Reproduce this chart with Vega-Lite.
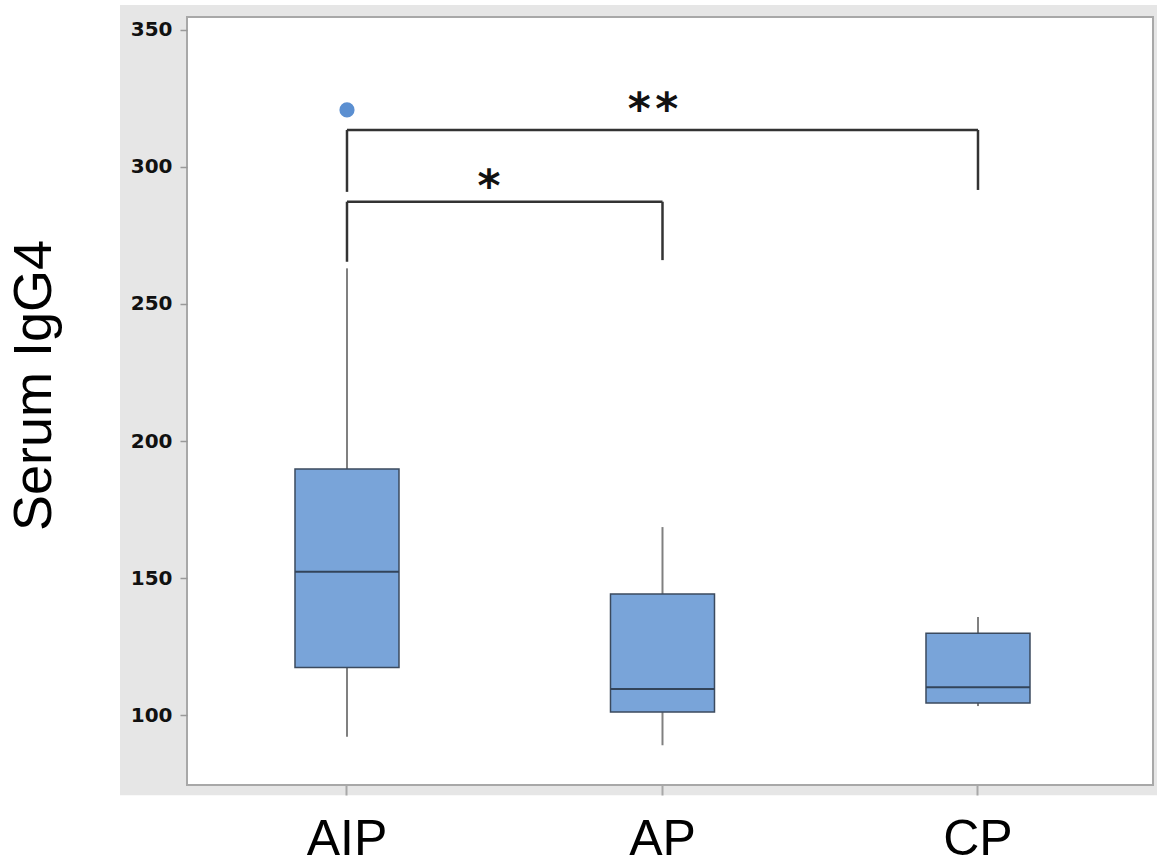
{
  "$schema": "https://vega.github.io/schema/vega-lite/v6.json",
  "width": 966,
  "height": 768,
  "autosize": {"type": "none"},
  "padding": {"left": 187, "top": 17, "right": 4, "bottom": 82},
  "background": "white",
  "config": {"view": {"stroke": null}},
  "datasets": {
    "boxes": [
      {"group": "AIP", "min": 92.1, "q1": 117.4, "median": 152.3, "q3": 189.8, "max": 263},
      {"group": "AP", "min": 89, "q1": 101.1, "median": 109.5, "q3": 144.2, "max": 168.6},
      {"group": "CP", "min": 103.3, "q1": 104.4, "median": 110.2, "q3": 129.9, "max": 135.8}
    ],
    "outliers": [
      {"group": "AIP", "value": 320.8}
    ],
    "brackets": [
      {"a": "AIP", "b": "AP", "lo": 287.3, "hi": 287.3},
      {"a": "AIP", "b": "AIP", "lo": 265.4, "hi": 287.3},
      {"a": "AP", "b": "AP", "lo": 266, "hi": 287.3},
      {"a": "AIP", "b": "CP", "lo": 313.5, "hi": 313.5},
      {"a": "AIP", "b": "AIP", "lo": 290.9, "hi": 313.5},
      {"a": "CP", "b": "CP", "lo": 291.6, "hi": 313.5}
    ]
  },
  "layer": [
    {
      "data": {"values": [{}]},
      "mark": {"type": "rect", "fill": "#e6e6e6", "clip": false},
      "encoding": {
        "x": {"datum": "AIP", "type": "nominal", "bandPosition": -0.2195,
              "scale": {"type": "band", "domain": ["AIP", "AP", "CP"], "paddingInner": 0, "paddingOuter": 0.0309, "align": 0.115},
              "axis": {"title": null, "labelFont": "Liberation Sans", "labelFontSize": 50, "labelColor": "black", "labelAngle": 0, "labelBaseline": "top", "labelPadding": 19, "tickSize": 10, "tickColor": "#a8a8a8", "tickWidth": 2, "domain": false, "grid": false, "zindex": 1, "bandPosition": 0.5}},
        "x2": {"datum": "CP", "bandPosition": 1.3},
        "y": {"datum": 359.1, "type": "quantitative",
              "scale": {"domain": [74.5, 354.7], "nice": false, "zero": false},
              "axis": {"values": [100, 150, 200, 250, 300, 350], "title": "Serum IgG4", "titleFont": "Liberation Sans", "titleFontSize": 54, "titleFontWeight": "normal", "titleColor": "black", "titleX": -137, "titleY": 368, "titleAngle": -90, "titleBaseline": "alphabetic", "titleAlign": "center", "labelFont": "DejaVu Sans", "labelFontWeight": "bold", "labelFontSize": 20, "labelColor": "#111111", "tickColor": "#999999", "tickSize": 7, "tickWidth": 1.5, "labelPadding": 8, "domain": false, "grid": false, "zindex": 1}},
        "y2": {"datum": 70.8}
      }
    },
    {
      "data": {"values": [{}]},
      "mark": {"type": "rect", "fill": "white", "stroke": "#a8a8a8", "strokeWidth": 2, "clip": false},
      "encoding": {
        "x": {"datum": "AIP", "type": "nominal", "bandPosition": -0.0071},
        "x2": {"datum": "CP", "bandPosition": 1.0547},
        "y": {"datum": 354.7, "type": "quantitative"},
        "y2": {"datum": 74.5}
      }
    },
    {
      "data": {"name": "boxes"},
      "mark": {"type": "rule", "color": "#808080", "strokeWidth": 2},
      "encoding": {
        "x": {"field": "group", "type": "nominal"},
        "y": {"field": "min", "type": "quantitative"},
        "y2": {"field": "q1"}
      }
    },
    {
      "data": {"name": "boxes"},
      "mark": {"type": "rule", "color": "#808080", "strokeWidth": 2},
      "encoding": {
        "x": {"field": "group", "type": "nominal"},
        "y": {"field": "q3", "type": "quantitative"},
        "y2": {"field": "max"}
      }
    },
    {
      "data": {"name": "boxes"},
      "mark": {"type": "bar", "width": 104, "fill": "#79a4d9", "stroke": "#3b4a5e", "strokeWidth": 1.5},
      "encoding": {
        "x": {"field": "group", "type": "nominal"},
        "y": {"field": "q1", "type": "quantitative"},
        "y2": {"field": "q3"}
      }
    },
    {
      "data": {"name": "boxes"},
      "mark": {"type": "tick", "orient": "horizontal", "size": 104, "thickness": 2, "color": "#33445a", "opacity": 1},
      "encoding": {
        "x": {"field": "group", "type": "nominal"},
        "y": {"field": "median", "type": "quantitative"}
      }
    },
    {
      "data": {"name": "outliers"},
      "mark": {"type": "circle", "size": 230, "color": "#5b8fd1", "opacity": 1},
      "encoding": {
        "x": {"field": "group", "type": "nominal"},
        "y": {"field": "value", "type": "quantitative"}
      }
    },
    {
      "data": {"name": "brackets"},
      "mark": {"type": "rule", "color": "#333333", "strokeWidth": 2.5},
      "encoding": {
        "x": {"field": "a", "type": "nominal"},
        "x2": {"field": "b"},
        "y": {"field": "lo", "type": "quantitative"},
        "y2": {"field": "hi"}
      }
    },
    {
      "data": {"values": [{"label": "*", "group": "AIP", "y": 287.5}]},
      "mark": {"type": "text", "font": "DejaVu Sans", "fontSize": 44, "fontWeight": "bold", "color": "#111111", "baseline": "alphabetic", "align": "center"},
      "encoding": {
        "x": {"field": "group", "type": "nominal", "bandPosition": 0.95},
        "y": {"field": "y", "type": "quantitative"},
        "text": {"field": "label"}
      }
    },
    {
      "data": {"values": [{"label": "*\u200a*", "group": "AP", "y": 315.5}]},
      "mark": {"type": "text", "font": "DejaVu Sans", "fontSize": 44, "fontWeight": "bold", "color": "#111111", "baseline": "alphabetic", "align": "center"},
      "encoding": {
        "x": {"field": "group", "type": "nominal", "bandPosition": 0.47},
        "y": {"field": "y", "type": "quantitative"},
        "text": {"field": "label"}
      }
    }
  ]
}
